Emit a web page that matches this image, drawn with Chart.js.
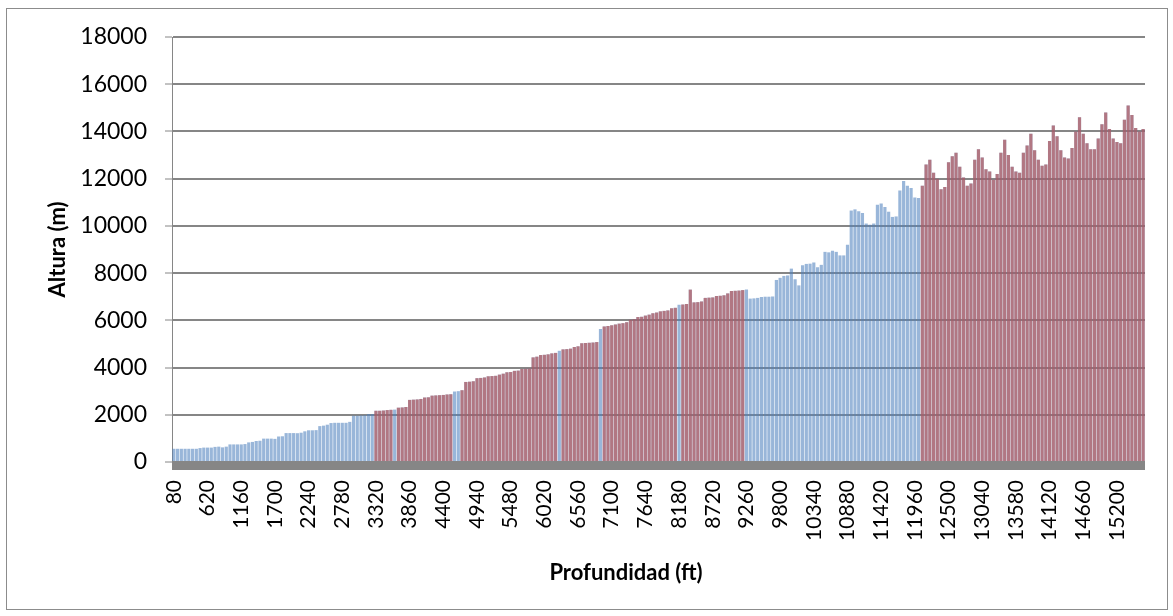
<!DOCTYPE html>
<html lang="es">
<head>
<meta charset="utf-8">
<title>Altura vs Profundidad</title>
<script src="https://cdn.jsdelivr.net/npm/chart.js@4.4.1/dist/chart.umd.min.js"></script>
<style>
  html, body {
    margin: 0;
    padding: 0;
    background: #ffffff;
  }
  #wrap {
    position: relative;
    width: 1173px;
    height: 616px;
  }
  #frame {
    position: absolute;
    left: 6px;
    top: 8px;
    width: 1160px;
    height: 600px;
    border: 1px solid #8c8c8c;
    pointer-events: none;
  }
  #xTitle {
    position: absolute;
    left: 426px;
    width: 400px;
    top: 558px;
    text-align: center;
    font: bold 22px Lato, "Open Sans", sans-serif;
    color: #000000;
  }
</style>
</head>
<body>
<div id="wrap">
  <canvas id="grafico" width="1173" height="616"></canvas>
  <div id="frame"></div>
  <div id="xTitle">Profundidad (ft)</div>
</div>
<script>
// Profundidad (ft), una fila = 9 categorias (= un rotulo del eje)
const profundidad = [
  80, 140, 200, 260, 320, 380, 440, 500, 560,
  620, 680, 740, 800, 860, 920, 980, 1040, 1100,
  1160, 1220, 1280, 1340, 1400, 1460, 1520, 1580, 1640,
  1700, 1760, 1820, 1880, 1940, 2000, 2060, 2120, 2180,
  2240, 2300, 2360, 2420, 2480, 2540, 2600, 2660, 2720,
  2780, 2840, 2900, 2960, 3020, 3080, 3140, 3200, 3260,
  3320, 3380, 3440, 3500, 3560, 3620, 3680, 3740, 3800,
  3860, 3920, 3980, 4040, 4100, 4160, 4220, 4280, 4340,
  4400, 4460, 4520, 4580, 4640, 4700, 4760, 4820, 4880,
  4940, 5000, 5060, 5120, 5180, 5240, 5300, 5360, 5420,
  5480, 5540, 5600, 5660, 5720, 5780, 5840, 5900, 5960,
  6020, 6080, 6140, 6200, 6260, 6320, 6380, 6440, 6500,
  6560, 6620, 6680, 6740, 6800, 6860, 6920, 6980, 7040,
  7100, 7160, 7220, 7280, 7340, 7400, 7460, 7520, 7580,
  7640, 7700, 7760, 7820, 7880, 7940, 8000, 8060, 8120,
  8180, 8240, 8300, 8360, 8420, 8480, 8540, 8600, 8660,
  8720, 8780, 8840, 8900, 8960, 9020, 9080, 9140, 9200,
  9260, 9320, 9380, 9440, 9500, 9560, 9620, 9680, 9740,
  9800, 9860, 9920, 9980, 10040, 10100, 10160, 10220, 10280,
  10340, 10400, 10460, 10520, 10580, 10640, 10700, 10760, 10820,
  10880, 10940, 11000, 11060, 11120, 11180, 11240, 11300, 11360,
  11420, 11480, 11540, 11600, 11660, 11720, 11780, 11840, 11900,
  11960, 12020, 12080, 12140, 12200, 12260, 12320, 12380, 12440,
  12500, 12560, 12620, 12680, 12740, 12800, 12860, 12920, 12980,
  13040, 13100, 13160, 13220, 13280, 13340, 13400, 13460, 13520,
  13580, 13640, 13700, 13760, 13820, 13880, 13940, 14000, 14060,
  14120, 14180, 14240, 14300, 14360, 14420, 14480, 14540, 14600,
  14660, 14720, 14780, 14840, 14900, 14960, 15020, 15080, 15140,
  15200, 15260, 15320, 15380, 15440, 15500, 15560, 15620,
];

// Altura (m)
const altura = [
  560, 560, 560, 560, 560, 560, 560, 590, 610,
  610, 610, 640, 650, 620, 650, 745, 745, 745,
  745, 760, 830, 850, 890, 900, 990, 990, 990,
  980, 1080, 1090, 1225, 1225, 1225, 1220, 1240, 1300,
  1343, 1343, 1350, 1520, 1540, 1580, 1650, 1660, 1660,
  1660, 1660, 1700, 1960, 1960, 1970, 1980, 2030, 2030,
  2170, 2170, 2180, 2200, 2210, 2220, 2300, 2310, 2330,
  2630, 2640, 2650, 2670, 2730, 2740, 2810, 2820, 2830,
  2840, 2860, 2870, 2985, 3000, 3040, 3390, 3400, 3420,
  3550, 3560, 3580, 3630, 3640, 3650, 3700, 3740, 3800,
  3810, 3860, 3870, 3940, 3950, 3960, 4430, 4460, 4530,
  4540, 4560, 4600, 4620, 4710, 4770, 4780, 4800, 4870,
  4900, 5030, 5040, 5050, 5060, 5080, 5630, 5740, 5760,
  5790, 5820, 5860, 5880, 5920, 6030, 6050, 6140, 6150,
  6200, 6240, 6300, 6330, 6380, 6400, 6420, 6510, 6530,
  6660, 6670, 6690, 7300, 6760, 6770, 6800, 6950, 6960,
  6970, 7030, 7040, 7060, 7140, 7240, 7250, 7260, 7280,
  7310, 6920, 6930, 6950, 6990, 7000, 7000, 7010, 7710,
  7800, 7880, 7900, 8190, 7740, 7480, 8330, 8390, 8400,
  8450, 8250, 8350, 8900, 8880, 8950, 8900, 8750, 8750,
  9200, 10650, 10700, 10620, 10550, 10100, 10050, 10100, 10900,
  10950, 10800, 10600, 10380, 10400, 11500, 11900, 11700, 11600,
  11200, 11180, 11700, 12600, 12800, 12250, 12000, 11550, 11650,
  12700, 12950, 13100, 12500, 12050, 11700, 11800, 12800, 13250,
  12900, 12400, 12300, 11950, 12200, 13100, 13650, 13000, 12500,
  12300, 12250, 13100, 13400, 13900, 13200, 12800, 12550, 12600,
  13600, 14250, 13800, 13200, 12900, 12850, 13300, 14000, 14600,
  13900, 13500, 13250, 13250, 13700, 14300, 14800, 14100, 13700,
  13550, 13500, 14500, 15100, 14700, 14150, 14000, 14100,
];

// Tramos (ft) donde la serie aparece en rojo
const tramosRojos = [
  [3320, 3560],
  [3680, 4520],
  [4700, 6200],
  [6320, 6860],
  [6980, 8120],
  [8240, 9200],
  [12080, 15620],
];

// Rotulos visibles del eje X
const rotulosX = [
  80, 620, 1160, 1700, 2240, 2780, 3320, 3860, 4400, 4940, 5480, 6020,
  6560, 7100, 7640, 8180, 8720, 9260, 9800, 10340, 10880, 11420, 11960,
  12500, 13040, 13580, 14120, 14660, 15200,
];

const ticksY = [0, 2000, 4000, 6000, 8000, 10000, 12000, 14000, 16000, 18000];

const GRID = "#868686";
const FONT = "Lato, 'Open Sans', sans-serif";

function enRojo(p) {
  return tramosRojos.some(([a, b]) => p >= a && p <= b);
}

// Piso gris del grafico 3D, bajo las columnas
const pisoPlugin = {
  id: "piso",
  afterDatasetsDraw(chart) {
    const { ctx, chartArea } = chart;
    ctx.save();
    ctx.fillStyle = GRID;
    ctx.fillRect(chartArea.left, chartArea.bottom - 1, chartArea.right - chartArea.left, 9);
    ctx.restore();
  },
};

const serieRoja = altura.map((v, i) => (enRojo(profundidad[i]) ? v : null));

new Chart(document.getElementById("grafico"), {
  type: "bar",
  data: {
    labels: profundidad,
    datasets: [
      {
        label: "Altura (rojo)",
        data: serieRoja,
        backgroundColor: "rgba(192, 80, 77, 0.62)",
        borderWidth: 0,
        grouped: false,
        barPercentage: 0.85,
        categoryPercentage: 1,
      },
      {
        label: "Altura",
        data: altura,
        backgroundColor: "rgba(79, 129, 189, 0.58)",
        borderWidth: 0,
        grouped: false,
        barPercentage: 0.85,
        categoryPercentage: 1,
      },
    ],
  },
  options: {
    responsive: false,
    animation: false,
    layout: {
      padding: { left: 0, top: 37, right: 28, bottom: 0 },
    },
    plugins: {
      legend: { display: false },
      tooltip: { enabled: false },
    },
    scales: {
      x: {
        grid: { display: false, drawTicks: false },
        border: { display: false },
        ticks: {
          autoSkip: false,
          minRotation: 90,
          maxRotation: 90,
          padding: 18,
          color: "#000000",
          font: { family: FONT, size: 21 },
          callback: function (value, index) {
            const p = profundidad[index];
            return rotulosX.includes(p) ? String(p) : "";
          },
        },
        afterFit(scale) {
          scale.height = 154;
          scale.paddingLeft = 0;
          scale.paddingRight = 0;
        },
      },
      y: {
        min: ticksY[0],
        max: ticksY[ticksY.length - 1],
        afterBuildTicks(scale) {
          scale.ticks = ticksY.map((v) => ({ value: v }));
        },
        grid: {
          color: GRID,
          lineWidth: 2,
          tickLength: 7,
          tickWidth: 1,
          tickColor: GRID,
        },
        border: { display: true, color: GRID, width: 1 },
        ticks: {
          padding: 18,
          color: "#000000",
          font: { family: FONT, size: 23 },
          callback: (value) => String(value),
        },
        title: {
          display: true,
          text: "Altura (m)",
          color: "#000000",
          font: { family: FONT, size: 22, weight: "bold" },
          padding: { top: 45, bottom: 0 },
        },
        afterFit(scale) {
          scale.width = 172;
        },
      },
    },
  },
  plugins: [pisoPlugin],
});
</script>
</body>
</html>
